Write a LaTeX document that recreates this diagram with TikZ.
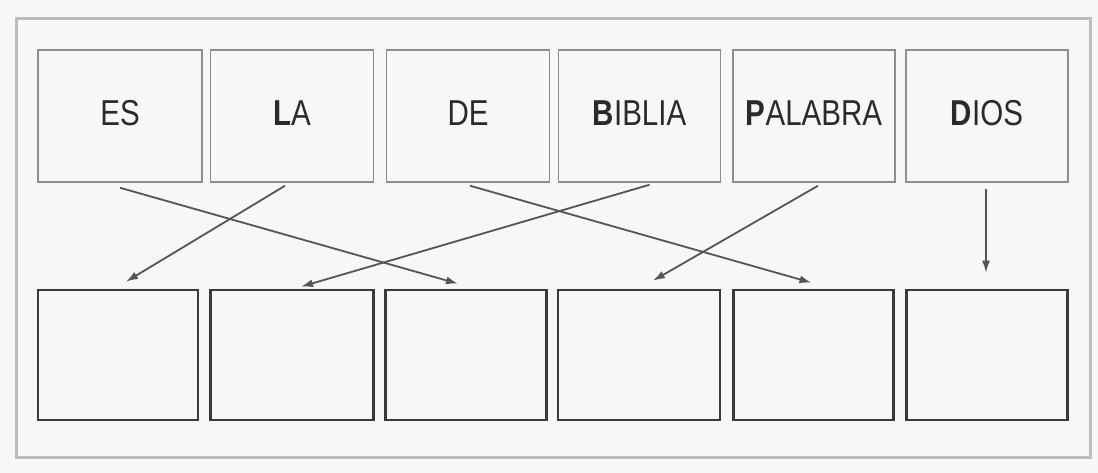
\documentclass[tikz,border=0pt]{standalone}
\usepackage{fontspec}
\setmainfont[FakeStretch=0.82]{Liberation Sans}
\usetikzlibrary{arrows.meta,calc}
\definecolor{bgc}{HTML}{F7F7F7}
\definecolor{framec}{HTML}{BDBDBD}
\definecolor{topc}{HTML}{8E8E8E}
\definecolor{botc}{HTML}{3A3A3A}
\definecolor{arrc}{HTML}{555555}
\definecolor{textc}{HTML}{2A2A2A}
\tikzset{
  wordbox/.style={draw=topc, line width=1.5pt, minimum height=132pt, inner sep=0pt,
    font=\fontsize{36}{40}\selectfont, text=textc},
  answerbox/.style={draw=botc, line width=2.6pt, minimum height=130pt, inner sep=0pt},
  link/.style={draw=arrc, line width=1.8pt, -{Latex[length=12pt,width=8pt]}}
}
\newcommand{\wordlabel}[2]{\raisebox{6pt}{{\bfseries #1}#2}}
\begin{document}
\begin{tikzpicture}[x=1pt,y=-1pt]
\useasboundingbox[fill=bgc] (0,0) rectangle (1098,473);
\draw[framec, line width=3pt] (16,19) rectangle (1090,457);
% top word boxes
\node[wordbox, minimum width=164pt] (t1) at (120,116) {\wordlabel{}{ES}};
\node[wordbox, minimum width=163pt] (t2) at (292,116) {\wordlabel{L}{A}};
\node[wordbox, minimum width=163pt] (t3) at (468,116) {\wordlabel{}{DE}};
\node[wordbox, minimum width=162pt] (t4) at (639.5,116) {\wordlabel{B}{IBLIA}};
\node[wordbox, minimum width=162pt] (t5) at (814,116) {\wordlabel{P}{ALABRA}};
\node[wordbox, minimum width=162pt] (t6) at (987,116) {\wordlabel{D}{IOS}};
% bottom answer boxes
\node[answerbox, minimum width=160pt] (b1) at (118,355) {};
\node[answerbox, minimum width=163pt] (b2) at (292,355) {};
\node[answerbox, minimum width=161pt] (b3) at (466,355) {};
\node[answerbox, minimum width=162pt] (b4) at (639,355) {};
\node[answerbox, minimum width=160pt] (b5) at (813.5,355) {};
\node[answerbox, minimum width=161pt] (b6) at (987,355) {};
% connectors
\draw[link] ($(t1.south)+(0,5)$) -- ($(b3.north)+(-8,-5)$);
\draw[link] ($(t2.south)+(-7,3)$) -- ($(b1.north)+(8,-7)$);
\draw[link] ($(t3.south)+(2,3)$) -- ($(b5.north)+(-2,-6)$);
\draw[link] ($(t4.south)+(10,2)$) -- ($(b2.north)+(9,-2)$);
\draw[link] ($(t5.south)+(4,3)$) -- ($(b4.north)+(14,-8)$);
\draw[link] ($(t6.south)+(-1,6)$) -- ($(b6.north)+(-1,-16)$);
\end{tikzpicture}
\end{document}
